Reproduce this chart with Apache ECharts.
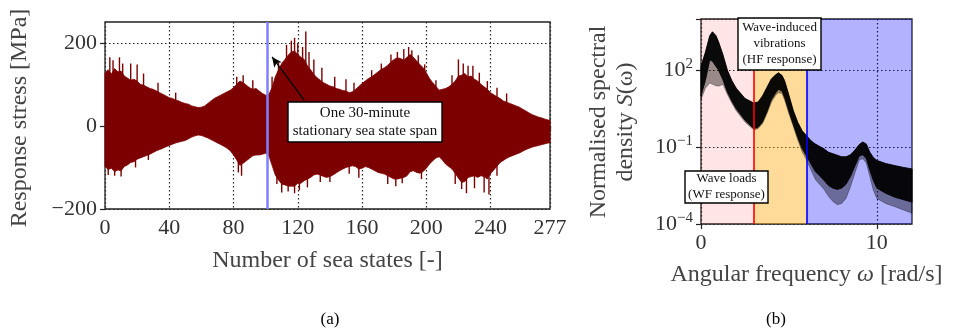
<!DOCTYPE html>
<html>
<head>
<meta charset="utf-8">
<script src="https://cdn.jsdelivr.net/npm/echarts@6/dist/echarts.min.js"></script>
<style>
html,body{margin:0;padding:0;background:#fff;}
#c{width:956px;height:335px;}
</style>
</head>
<body>
<div id="c"></div>
<script>
// ---------- Panel (a): response stress, typical envelope per 2-sea-state bin ----------
const seaStateBins = [0,2,4,6,8,10,12,14,16,18,20,22,24,26,28,30,32,34,36,38,40,42,44,46,48,50,52,54,56,58,60,62,64,66,68,70,72,74,76,78,80,82,84,86,88,90,92,94,96,98,100,102,104,106,108,110,112,114,116,118,120,122,124,126,128,130,132,134,136,138,140,142,144,146,148,150,152,154,156,158,160,162,164,166,168,170,172,174,176,178,180,182,184,186,188,190,192,194,196,198,200,202,204,206,208,210,212,214,216,218,220,222,224,226,228,230,232,234,236,238,240,242,244,246,248,250,252,254,256,258,260,262,264,266,268,270,272,274,276];
const stressUpper = [128,135,125,138,130,132,120,115,110,112,108,100,98,94,90,88,84,80,76,72,68,66,62,60,56,54,52,48,46,44,45,48,54,60,66,70,74,78,82,86,92,100,108,104,98,92,88,90,84,78,74,76,92,118,135,150,160,170,178,180,172,165,160,145,135,124,116,110,104,100,96,94,90,88,85,84,80,82,88,95,102,108,114,118,124,130,136,140,146,154,160,164,162,158,165,172,165,156,148,140,128,114,104,95,86,88,90,94,100,108,120,122,126,118,120,112,108,100,94,88,80,75,70,66,60,57,54,51,48,45,40,36,31,27,24,21,19,16,14];
const stressLower = [-98,-105,-102,-110,-106,-108,-98,-94,-88,-86,-80,-77,-74,-71,-68,-64,-60,-57,-54,-50,-47,-44,-41,-39,-37,-35,-31,-27,-24,-22,-23,-26,-29,-33,-37,-41,-45,-49,-54,-60,-70,-82,-95,-90,-84,-78,-72,-70,-70,-68,-66,-72,-95,-118,-130,-140,-142,-145,-145,-145,-138,-138,-132,-128,-124,-118,-116,-118,-122,-124,-122,-118,-113,-108,-104,-100,-98,-96,-98,-104,-102,-98,-100,-104,-108,-112,-114,-116,-120,-124,-128,-128,-126,-124,-120,-110,-108,-112,-114,-110,-102,-92,-84,-77,-74,-82,-92,-98,-104,-114,-126,-136,-134,-124,-122,-120,-124,-120,-122,-128,-115,-106,-97,-88,-83,-78,-74,-71,-68,-65,-61,-57,-54,-51,-49,-47,-45,-43,-41];
// isolated stress peaks [sea state, MPa]
const stressPeaks = [[3,165],[5,158],[9,165],[11,150],[16,150],[20,148],[24,126],[33,104],[44,80],[82,118],[86,122],[92,110],[104,118],[108,152],[113,195],[116,205],[118,212],[120,198],[123,190],[125,227],[127,178],[130,160],[135,140],[143,118],[150,112],[155,104],[166,134],[172,150],[178,172],[182,178],[186,185],[189,190],[191,182],[195,170],[199,148],[206,110],[216,122],[220,160],[223,150],[226,145],[229,145],[233,128],[238,108],[244,92],[250,78],
  [2,-118],[6,-120],[10,-122],[19,-100],[27,-82],[83,-112],[85,-120],[107,-140],[110,-160],[114,-158],[118,-162],[121,-155],[126,-148],[134,-135],[140,-135],[152,-115],[158,-125],[176,-140],[181,-145],[185,-138],[197,-128],[218,-140],[222,-152],[225,-162],[230,-150],[236,-160],[239,-165],[244,-120]];
const seaStateMax = 277;
const highlightedSeaState = 101;
const stressXTicks = [0,40,80,120,160,200,240,277];
const stressYTicks = [-200,0,200];

// ---------- Panel (b): normalised spectral density envelopes ----------
const omega = [0,0.25,0.5,0.65,0.85,1.0,1.25,1.5,1.75,2.0,2.5,3.0,3.25,3.5,3.75,4.0,4.25,4.4,4.6,4.75,5.0,5.25,5.5,5.75,6.0,6.25,6.5,7.0,7.25,7.5,7.75,8.0,8.25,8.5,8.75,9.0,9.2,9.4,9.6,9.8,10.0,10.5,11.0,11.5,12.0];
const psdUpper = [141,501,2239,3162,2239,1259,398,100,39.8,20.0,7.94,5.25,5.75,10.0,21.4,45.7,66.1,79.4,63.1,39.8,10.5,2.63,0.933,0.437,0.282,0.178,0.132,0.0851,0.0631,0.0550,0.0479,0.0417,0.0417,0.0501,0.0759,0.126,0.158,0.132,0.0631,0.0398,0.0302,0.0229,0.0191,0.0162,0.0141];
const psdCoreLower = [10.0,39.8,251,224,141,100,41.7,14.1,6.31,3.16,1.12,0.525,0.603,0.955,2.40,7.08,13.2,17.8,15.8,8.91,2.51,0.759,0.240,0.0891,0.0447,0.0224,0.0112,0.00501,0.00316,0.00251,0.00224,0.00251,0.00355,0.00708,0.0178,0.0447,0.0501,0.0355,0.0126,0.00501,0.00251,0.00158,0.00112,0.000891,0.000708];
const psdOuterLower = [7.08,20.0,31.6,28.2,25.1,24.0,28.2,11.2,5.25,2.63,0.955,0.468,0.525,0.832,2.00,5.62,10.5,13.2,12.6,7.08,2.00,0.631,0.191,0.0661,0.0316,0.0132,0.00550,0.00224,0.00120,0.000759,0.000562,0.000631,0.00100,0.00282,0.00955,0.0316,0.0355,0.0240,0.00708,0.00209,0.00100,0.000631,0.000479,0.000355,0.000263];
const wfLimit = 3;
const hfLimit = 6;
const omegaMax = 12;
const omegaTicks = [0,10];
const psdTickExps = [-4,-1,2];

const SERIF = '"Liberation Serif","DejaVu Serif",serif';
const SIGNAL = '#7d0000';
const chart = echarts.init(document.getElementById('c'));

function bandPolygon(api, xs, hi, lo, xEnd) {
  const pts = [];
  for (let i = 0; i < xs.length; i++) pts.push(api.coord([xs[i], hi[i]]));
  if (xEnd !== undefined) {
    pts.push(api.coord([xEnd, hi[hi.length - 1]]));
    pts.push(api.coord([xEnd, lo[lo.length - 1]]));
  }
  for (let i = xs.length - 1; i >= 0; i--) pts.push(api.coord([xs[i], lo[i]]));
  return pts;
}
const supMap = {'-1':'−1','-4':'−4','2':'2'};
const gridLine = {show: true, lineStyle: {color: '#222', type: [1.5, 2.5], width: 1.2}};
const tickStyle = {color: '#222', width: 1.2};
const tickFont = {fontFamily: SERIF, fontSize: 22, color: '#333', margin: 8};
const nameFont = {fontFamily: SERIF, fontSize: 24, color: '#444'};

chart.setOption({
  animation: false,
  backgroundColor: '#fff',
  grid: [
    {left: 105, top: 22, width: 445, height: 187, show: true, borderColor: '#222', borderWidth: 1.3, backgroundColor: 'transparent'},
    {left: 701, top: 19, width: 211, height: 205, show: true, borderColor: '#222', borderWidth: 1.3, backgroundColor: 'transparent'}
  ],
  xAxis: [
    {gridIndex: 0, type: 'value', min: 0, max: seaStateMax, interval: 40,
     name: 'Number of sea states [-]', nameLocation: 'middle', nameGap: 40,
     nameTextStyle: nameFont,
     axisLine: {show: false},
     axisTick: {show: true, inside: false, length: 5, lineStyle: tickStyle, customValues: stressXTicks},
     axisLabel: Object.assign({customValues: stressXTicks}, tickFont),
     splitLine: gridLine},
    {gridIndex: 1, type: 'value', min: 0, max: omegaMax, interval: 10,
     name: 'Angular frequency {i|ω} [rad/s]', nameLocation: 'middle', nameGap: 39,
     nameTextStyle: Object.assign({rich: {i: {fontFamily: SERIF, fontStyle: 'italic', fontSize: 24, color: '#444'}}}, nameFont),
     axisLine: {show: false},
     axisTick: {show: true, inside: false, length: 5, lineStyle: tickStyle, customValues: omegaTicks},
     axisLabel: Object.assign({customValues: omegaTicks}, tickFont),
     splitLine: gridLine}
  ],
  yAxis: [
    {gridIndex: 0, type: 'value', min: -200, max: 250, interval: 200,
     axisLine: {show: false},
     axisTick: {show: true, inside: false, length: 5, lineStyle: tickStyle, customValues: stressYTicks},
     axisLabel: Object.assign({customValues: stressYTicks, formatter: v => String(v).replace('-', '−')}, tickFont),
     splitLine: gridLine},
    {gridIndex: 1, type: 'log', logBase: 10, min: 1e-4, max: 1e4, interval: 3,
     axisLine: {show: false},
     axisTick: {show: true, inside: false, length: 5, lineStyle: tickStyle},
     axisLabel: Object.assign({
       formatter: function (v) {
         const e = Math.round(Math.log10(v));
         if (psdTickExps.indexOf(e) < 0) return '';
         return '{b|10}{s|' + supMap[String(e)] + '}';
       },
       rich: {b: {fontFamily: SERIF, fontSize: 22, color: '#333'}, s: {fontFamily: SERIF, fontSize: 15, color: '#333', verticalAlign: 'top', padding: [0,0,12,0]}}}, tickFont),
     splitLine: gridLine}
  ],
  series: [
    // highlighted sea state line (under the signal)
    {type: 'line', xAxisIndex: 0, yAxisIndex: 0, data: [], z: 1, silent: true,
     markLine: {silent: true, symbol: ['none', 'none'], label: {show: false},
       lineStyle: {color: '#8080ff', width: 2.5, type: 'solid'},
       data: [{xAxis: highlightedSeaState}]}},
    // stress signal body
    {type: 'custom', xAxisIndex: 0, yAxisIndex: 0, z: 3, silent: true,
     data: [[seaStateBins[0], stressUpper[0]]],
     renderItem: function (params, api) {
       return {type: 'polygon', shape: {points: bandPolygon(api, seaStateBins, stressUpper, stressLower, seaStateMax)},
               style: {fill: SIGNAL, stroke: SIGNAL, lineWidth: 0.8}};
     }},
    // stress signal isolated peaks
    {type: 'custom', xAxisIndex: 0, yAxisIndex: 0, z: 3, silent: true,
     data: stressPeaks,
     renderItem: function (params, api) {
       const a = api.coord([api.value(0), 0]);
       const b = api.coord([api.value(0), api.value(1)]);
       return {type: 'line', shape: {x1: a[0], y1: a[1], x2: b[0], y2: b[1]},
               style: {stroke: SIGNAL, lineWidth: 1.4}};
     }},
    // arrow annotation
    {type: 'line', xAxisIndex: 0, yAxisIndex: 0, data: [], z: 5, silent: true,
     markLine: {silent: true, symbol: ['none', 'arrow'], symbolSize: [7, 10], label: {show: false},
       lineStyle: {color: '#000', width: 1.3, type: 'solid'},
       data: [[{coord: [124, 62]}, {coord: [104, 166]}]]}},
    // spectral regions
    {type: 'line', xAxisIndex: 1, yAxisIndex: 1, data: [], z: 2, silent: true,
     markArea: {silent: true, data: [
       [{xAxis: 0, itemStyle: {color: 'rgba(255,0,0,0.1)'}}, {xAxis: wfLimit}],
       [{xAxis: wfLimit, itemStyle: {color: 'rgba(255,165,0,0.4)'}}, {xAxis: hfLimit}],
       [{xAxis: hfLimit, itemStyle: {color: 'rgba(0,0,255,0.3)'}}, {xAxis: omegaMax}]
     ]}},
    // spectral curves: sparse fringe
    {type: 'custom', xAxisIndex: 1, yAxisIndex: 1, z: 3, silent: true,
     data: [[omega[0], psdUpper[0]]],
     renderItem: function (params, api) {
       return {type: 'polygon', shape: {points: bandPolygon(api, omega, psdUpper, psdOuterLower)},
               style: {fill: 'rgba(0,0,0,0.4)', stroke: 'rgba(0,0,0,0.5)', lineWidth: 0.6}};
     }},
    // spectral curves: dense core
    {type: 'custom', xAxisIndex: 1, yAxisIndex: 1, z: 4, silent: true,
     data: [[omega[0], psdUpper[0]]],
     renderItem: function (params, api) {
       return {type: 'polygon', shape: {points: bandPolygon(api, omega, psdUpper, psdCoreLower)},
               style: {fill: 'rgba(0,0,0,0.93)', stroke: '#000', lineWidth: 0.8}};
     }},
    // region limits
    {type: 'line', xAxisIndex: 1, yAxisIndex: 1, data: [], z: 6, silent: true,
     markLine: {silent: true, symbol: ['none', 'none'], label: {show: false},
       data: [{xAxis: wfLimit, lineStyle: {color: '#ff0000', width: 1.6, type: 'solid'}},
              {xAxis: hfLimit, lineStyle: {color: '#0000ff', width: 1.6, type: 'solid'}}]}}
  ],
  graphic: [
    {type: 'text', x: 20, y: 118, rotation: Math.PI / 2, z: 100,
     style: {text: 'Response stress [MPa]', font: '24px ' + SERIF, fill: '#444', textAlign: 'center', textVerticalAlign: 'middle'}},
    {type: 'text', x: 612, y: 122, rotation: Math.PI / 2, z: 100,
     style: {text: 'Normalised spectral\ndensity {i|S}(ω)', font: '24px ' + SERIF, fill: '#444', textAlign: 'center', textVerticalAlign: 'middle', lineHeight: 27,
       rich: {i: {fontFamily: SERIF, fontStyle: 'italic', fontSize: 24, fill: '#444', lineHeight: 27}}}},
    // annotation box (a)
    {type: 'rect', z: 100, shape: {x: 288, y: 102, width: 154, height: 40}, style: {fill: '#fff', stroke: '#000', lineWidth: 1.4}},
    {type: 'text', z: 101, x: 365, y: 122,
     style: {text: 'One 30-minute\nstationary sea state span', font: '15px ' + SERIF, fill: '#111', textAlign: 'center', textVerticalAlign: 'middle', lineHeight: 18}},
    // annotation boxes (b)
    {type: 'rect', z: 100, shape: {x: 738, y: 18, width: 83, height: 52}, style: {fill: '#fff', stroke: '#000', lineWidth: 1.4}},
    {type: 'text', z: 101, x: 779.5, y: 44,
     style: {text: 'Wave-induced\nvibrations\n(HF response)', font: '13px ' + SERIF, fill: '#111', textAlign: 'center', textVerticalAlign: 'middle', lineHeight: 16}},
    {type: 'rect', z: 100, shape: {x: 685, y: 171, width: 83, height: 32}, style: {fill: '#fff', stroke: '#000', lineWidth: 1.4}},
    {type: 'text', z: 101, x: 726.5, y: 187,
     style: {text: 'Wave loads\n(WF response)', font: '13px ' + SERIF, fill: '#111', textAlign: 'center', textVerticalAlign: 'middle', lineHeight: 16}},
    // captions
    {type: 'text', z: 100, x: 330, y: 320, style: {text: '(a)', font: '17px ' + SERIF, fill: '#000', textAlign: 'center', textVerticalAlign: 'middle'}},
    {type: 'text', z: 100, x: 776, y: 320, style: {text: '(b)', font: '17px ' + SERIF, fill: '#000', textAlign: 'center', textVerticalAlign: 'middle'}}
  ]
});
</script>
</body>
</html>
